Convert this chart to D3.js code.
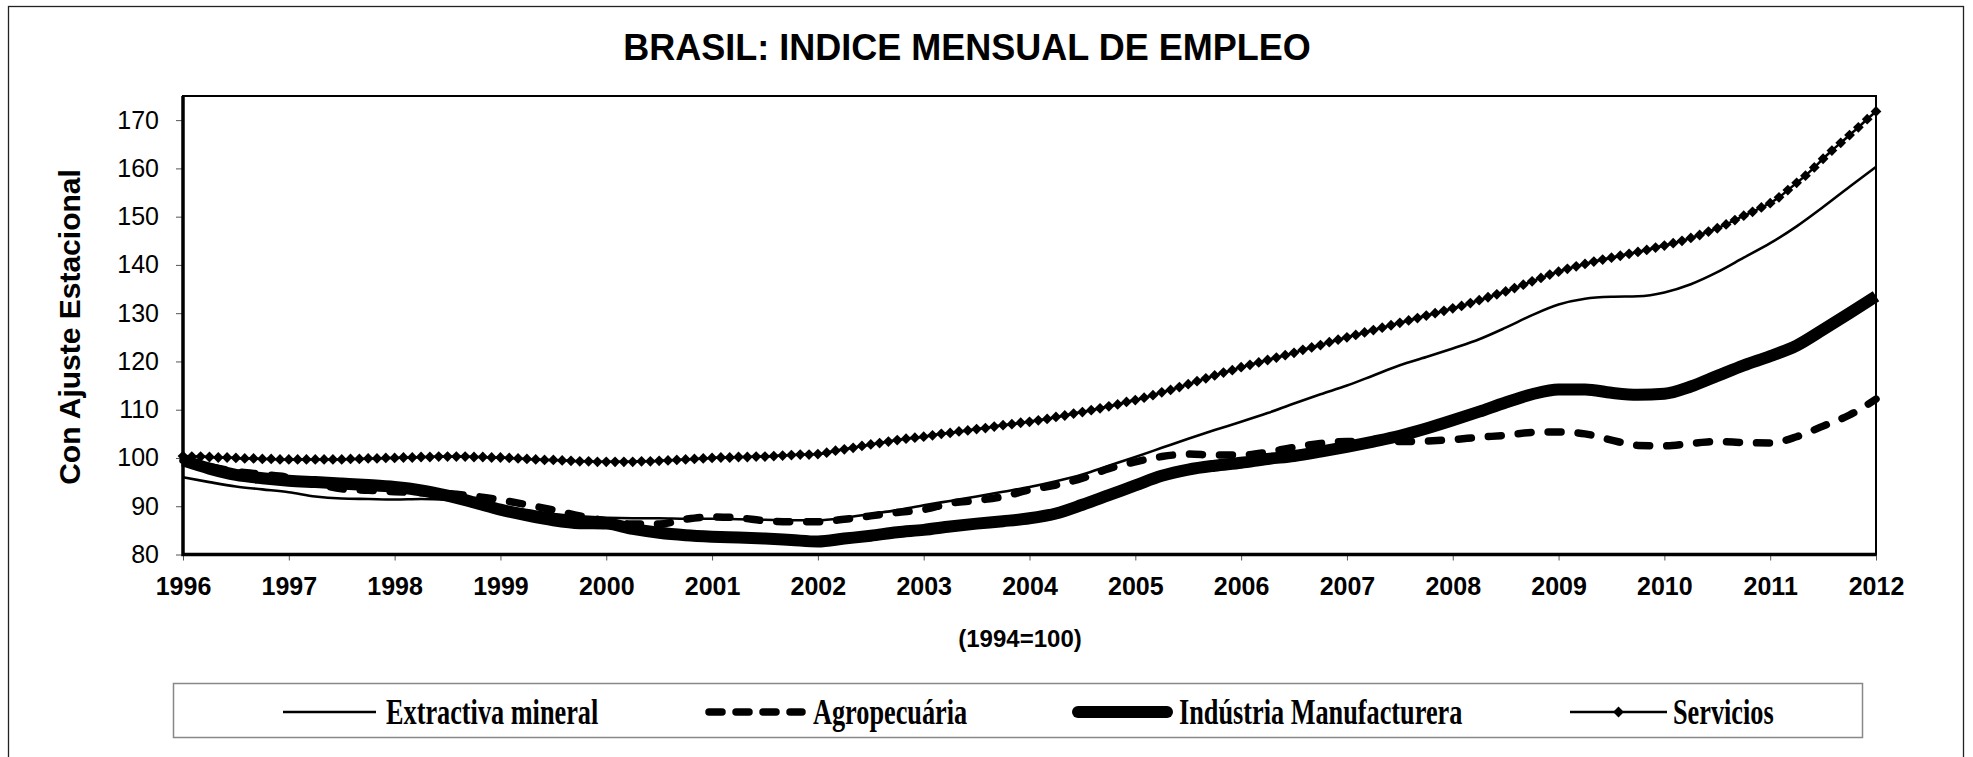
<!DOCTYPE html>
<html>
<head>
<meta charset="utf-8">
<script src="https://cdn.jsdelivr.net/npm/d3@7"></script>
<style>
body { margin: 0; background: #fff; }
svg { display: block; }
</style>
</head>
<body>
<svg width="1973" height="757"></svg>
<script>
// --- data ---
var years = [1996,1997,1998,1999,2000,2001,2002,2003,2004,2005,2006,2007,2008,2009,2010,2011,2012];
var yTicks = [80,90,100,110,120,130,140,150,160,170];

// quarterly values, 1996 Q1 .. 2012 Q1
var extractiva = [
  96.0, 95.0, 94.1, 93.5,
  92.9, 92.0, 91.6, 91.5,
  91.4, 91.5, 91.3, 90.8,
  90.0, 89.2, 88.4, 87.9,
  87.6, 87.5, 87.5, 87.4,
  87.4, 87.3, 87.2, 87.1,
  87.1, 87.6, 88.4, 89.2,
  90.2, 91.1, 92.0, 93.0,
  94.0, 95.2, 96.6, 98.4,
  100.2, 102.1, 104.0, 105.8,
  107.5, 109.3, 111.3, 113.2,
  115.0, 117.1, 119.2, 120.9,
  122.7, 124.6, 127.0, 129.6,
  131.8, 133.0, 133.4, 133.5,
  134.3, 136.0, 138.5, 141.5,
  144.5, 148.0, 152.0, 156.2,
  160.3];
var agro = [
  99.5, 98.2, 97.2, 96.6,
  96.0, 94.8, 93.6, 93.3,
  93.0, 92.8, 92.6, 92.1,
  91.3, 90.3, 89.2, 88.0,
  87.0, 86.3, 86.3, 87.3,
  87.8, 87.6, 87.0, 86.8,
  86.8, 87.3, 88.0, 88.7,
  89.3, 90.6, 91.2, 92.0,
  93.4, 94.4, 95.8, 97.8,
  99.2, 100.3, 100.8, 100.6,
  100.6, 101.2, 102.2, 103.0,
  103.4, 103.4, 103.4, 103.5,
  103.8, 104.3, 104.7, 105.3,
  105.4, 105.0, 103.7, 102.6,
  102.5, 103.0, 103.4, 103.2,
  103.1, 104.4, 106.6, 108.9,
  112.2];
var industria = [
  99.5, 97.8, 96.5, 95.8,
  95.3, 95.0, 94.7, 94.4,
  94.0, 93.3, 92.2, 90.8,
  89.3, 88.1, 87.1, 86.5,
  86.4, 85.3, 84.5, 84.0,
  83.7, 83.5, 83.3, 83.0,
  82.7, 83.3, 83.9, 84.6,
  85.1, 85.8, 86.4, 86.9,
  87.5, 88.5, 90.3, 92.3,
  94.3, 96.3, 97.6, 98.4,
  99.0, 99.8, 100.4, 101.3,
  102.3, 103.4, 104.6, 106.1,
  107.8, 109.6, 111.5, 113.2,
  114.2, 114.2, 113.5, 113.1,
  113.3, 114.8, 117.0, 119.2,
  121.1, 123.3, 126.6, 130.0,
  133.5];
// monthly values, Jan 1996 .. Jan 2012
var servicios = [
  100.4,100.3,100.3,100.2,100.1,100.1,100.0,99.9,99.9,99.8,99.8,99.7,
  99.7,99.7,99.7,99.7,99.7,99.7,99.7,99.8,99.8,99.9,99.9,100.0,
  100.0,100.1,100.1,100.2,100.2,100.3,100.3,100.3,100.3,100.2,100.2,100.1,
  100.1,100.0,99.9,99.8,99.7,99.6,99.6,99.5,99.4,99.3,99.3,99.2,
  99.2,99.2,99.2,99.2,99.3,99.3,99.4,99.5,99.6,99.7,99.8,99.9,
  100.0,100.1,100.1,100.2,100.2,100.3,100.3,100.4,100.5,100.6,100.7,100.7,
  100.8,101.1,101.5,101.8,102.1,102.5,102.8,103.1,103.4,103.7,104.0,104.2,
  104.4,104.7,105.0,105.2,105.5,105.7,106.0,106.2,106.5,106.8,107.0,107.3,
  107.5,107.8,108.1,108.5,108.8,109.2,109.5,109.9,110.3,110.7,111.1,111.6,
  112.0,112.5,113.0,113.6,114.1,114.7,115.3,115.9,116.5,117.1,117.7,118.2,
  118.8,119.3,119.8,120.3,120.8,121.3,121.8,122.4,122.9,123.4,124.0,124.5,
  125.0,125.5,126.0,126.5,127.0,127.5,128.0,128.5,129.0,129.5,130.0,130.5,
  131.0,131.5,132.1,132.7,133.3,133.9,134.5,135.2,135.9,136.6,137.3,138.0,
  138.6,139.2,139.7,140.2,140.7,141.1,141.5,141.9,142.3,142.7,143.1,143.6,
  144.0,144.5,145.0,145.6,146.2,146.9,147.6,148.4,149.3,150.2,151.0,151.9,
  152.8,154.0,155.5,157.0,158.5,160.2,162.0,163.7,165.3,166.9,168.5,170.2,
  171.8];
var seriesNames = ["Extractiva mineral", "Agropecuária", "Indústria Manufacturera", "Servicios"];

var svg = d3.select("svg");
var sans = "'Liberation Sans', Arial, sans-serif";
var serif = "'Liberation Serif', 'Times New Roman', serif";

var x = d3.scaleLinear().domain([1996, 2012]).range([183, 1876]);
var y = d3.scaleLinear().domain([80, 175]).range([554.5, 96]);

// outer frame
svg.append("rect")
    .attr("x", 8.5).attr("y", 6.5)
    .attr("width", 1955).attr("height", 770)
    .attr("fill", "none").attr("stroke", "#222").attr("stroke-width", 1.3);

svg.append("text")
    .attr("x", 967).attr("y", 60)
    .attr("text-anchor", "middle")
    .style("font-family", sans).style("font-weight", "bold").style("font-size", "36px")
    .text("BRASIL: INDICE MENSUAL DE EMPLEO");

// axes
var gy = svg.append("g").attr("transform", "translate(183,0)")
    .call(d3.axisLeft(y).tickValues(yTicks).tickSize(7).tickPadding(17).tickSizeOuter(0));
gy.select(".domain").remove();
gy.selectAll(".tick line").attr("stroke", "#555");
gy.selectAll(".tick text")
    .style("font-family", sans).style("font-size", "25px").attr("fill", "#000");

var gx = svg.append("g").attr("transform", "translate(0,554.5)")
    .call(d3.axisBottom(x).tickValues(years).tickFormat(d3.format("d")).tickSize(6).tickPadding(17).tickSizeOuter(0));
gx.select(".domain").remove();
gx.selectAll(".tick line").attr("stroke", "#555");
gx.selectAll(".tick text")
    .style("font-family", sans).style("font-weight", "bold").style("font-size", "25px").attr("fill", "#000");

svg.append("text")
    .attr("transform", "translate(80,327) rotate(-90)")
    .attr("text-anchor", "middle")
    .style("font-family", sans).style("font-weight", "bold").style("font-size", "30px")
    .text("Con Ajuste Estacional");

svg.append("text")
    .attr("x", 1020).attr("y", 647)
    .attr("text-anchor", "middle")
    .style("font-family", sans).style("font-weight", "bold").style("font-size", "24px")
    .text("(1994=100)");

// plot frame
svg.append("rect")
    .attr("x", 183).attr("y", 96)
    .attr("width", 1876 - 183).attr("height", 554.5 - 96)
    .attr("fill", "none").attr("stroke", "#000").attr("stroke-width", 2);
svg.append("path")
    .attr("d", "M183,96V554.5H1876")
    .attr("fill", "none").attr("stroke", "#000").attr("stroke-width", 3.5);

// lines
var quarterX = extractiva.map(function(d, i) { return 1996 + i / 4; });
var monthX = servicios.map(function(d, i) { return 1996 + i / 12; });

var line = d3.line()
    .x(function(d) { return x(d[0]); })
    .y(function(d) { return y(d[1]); })
    .curve(d3.curveMonotoneX);

function pairs(xs, vs) { return vs.map(function(v, i) { return [xs[i], v]; }); }

var styles = [
  { w: 2.6, dash: null },
  { w: 7.5, dash: "13,17" },
  { w: 12, dash: null },
  { w: 2.5, dash: null }
];

svg.append("path").datum(pairs(quarterX, agro))
    .attr("d", line).attr("fill", "none").attr("stroke", "#000")
    .attr("stroke-width", styles[1].w).attr("stroke-dasharray", styles[1].dash)
    .attr("stroke-linecap", "round");
svg.append("path").datum(pairs(quarterX, industria))
    .attr("d", line).attr("fill", "none").attr("stroke", "#000")
    .attr("stroke-width", styles[2].w).attr("stroke-linejoin", "round");
svg.append("path").datum(pairs(quarterX, extractiva))
    .attr("d", line).attr("fill", "none").attr("stroke", "#000")
    .attr("stroke-width", styles[0].w);
svg.append("path").datum(pairs(monthX, servicios))
    .attr("d", line).attr("fill", "none").attr("stroke", "#000")
    .attr("stroke-width", styles[3].w);

// square diamond marker
var diamond = {
  draw: function(ctx, size) {
    var r = Math.sqrt(size / 2);
    ctx.moveTo(0, -r); ctx.lineTo(r, 0); ctx.lineTo(0, r); ctx.lineTo(-r, 0); ctx.closePath();
  }
};
var sym = d3.symbol().type(diamond).size(58);

svg.append("g").selectAll("path")
    .data(pairs(monthX, servicios))
  .enter().append("path")
    .attr("transform", function(d) { return "translate(" + x(d[0]) + "," + y(d[1]) + ")"; })
    .attr("d", sym)
    .attr("fill", "#000");

// legend
svg.append("rect")
    .attr("x", 173.5).attr("y", 683.5)
    .attr("width", 1862 - 173).attr("height", 54)
    .attr("fill", "#fff").attr("stroke", "#888").attr("stroke-width", 1.5);

var legendItems = [
  { x0: 283, x1: 376, tx: 386 },
  { x0: 709, x1: 802, tx: 813 },
  { x0: 1078, x1: 1167, tx: 1179 },
  { x0: 1570, x1: 1667, tx: 1673 }
];
var ly = 712;
legendItems.forEach(function(it, i) {
  var s = styles[i];
  var p = svg.append("line")
      .attr("x1", it.x0).attr("x2", it.x1).attr("y1", ly).attr("y2", ly)
      .attr("stroke", "#000").attr("stroke-width", s.w);
  if (s.dash) p.attr("stroke-dasharray", "13,14").attr("stroke-linecap", "round");
  if (i === 2) p.attr("stroke-linecap", "round");
  if (i === 3) {
    svg.append("path")
        .attr("transform", "translate(" + ((it.x0 + it.x1) / 2) + "," + ly + ")")
        .attr("d", sym).attr("fill", "#000");
  }
  svg.append("text")
      .attr("transform", "translate(" + it.tx + ",724) scale(0.73,1)")
      .style("font-family", serif).style("font-weight", "bold").style("font-size", "36px")
      .text(seriesNames[i]);
});
</script>
</body>
</html>
